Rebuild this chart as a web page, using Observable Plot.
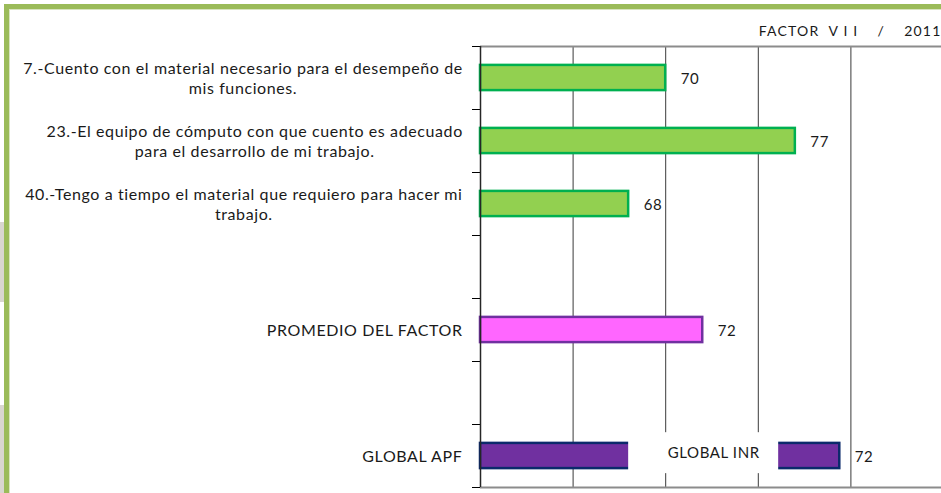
<!DOCTYPE html>
<html><head><meta charset="utf-8">
<script src="https://cdn.jsdelivr.net/npm/d3@7"></script>
<script src="https://cdn.jsdelivr.net/npm/@observablehq/plot@0.6"></script>
<style>
html,body{margin:0;padding:0;background:#fff;overflow:hidden;}
#wrap{position:relative;width:941px;height:493px;}
#wrap svg{position:absolute;left:0;top:0;}
.deco{position:absolute;pointer-events:none;}
</style></head>
<body><div id="wrap"></div>
<script>
// ---- data ----
const categories = [
  "7.-Cuento con el material necesario para el desempeño de\nmis funciones.",
  "23.-El equipo de cómputo con que cuento es adecuado\npara el desarrollo de mi trabajo.",
  "40.-Tengo a tiempo el material que requiero para hacer mi\ntrabajo.",
  "",
  "PROMEDIO DEL FACTOR",
  "",
  "GLOBAL APF"
];
const barCategories = [
  "7.-Cuento con el material necesario para el desempeño de\nmis funciones.",
  "23.-El equipo de cómputo con que cuento es adecuado\npara el desarrollo de mi trabajo.",
  "40.-Tengo a tiempo el material que requiero para hacer mi\ntrabajo.",
  "PROMEDIO DEL FACTOR",
  "GLOBAL APF"
];
const barValues = [70, 77, 68, 72, 79.4];
const valueLabels = ["70", "77", "68", "72", "72"];
const barKinds = ["item", "item", "item", "promedio", "global"];
const xDomain = [60, 85];
const gridValues = [65, 70, 75, 80, 85];
const titleText = "FACTOR\u00a0\u00a0V\u00a0I\u00a0I\u00a0\u00a0\u00a0\u00a0/\u00a0\u00a0\u00a0\u00a02011";
const inrLabel = "GLOBAL INR";
const inrSpan = [68, 76.1];

// ---- styles ----
const fills = {item: "#92d050", promedio: "#ff66ff", global: "#7030a0"};
const strokes = {item: "#00b050", promedio: "#7030a0", global: "#0b2a6b"};
const FONT = "Lato, 'Open Sans', sans-serif";
const FS = 15;
const LFS = 16;     // category label size
const LLS = 0.6;    // category label letter spacing

const idx = c => categories.indexOf(c);
const bars = barCategories.map((c, i) => ({cat: c, i: idx(c), value: barValues[i], label: valueLabels[i], kind: barKinds[i]}));

const ctx = document.createElement("canvas").getContext("2d");
ctx.font = `${LFS}px Lato`;
const blockWidth = s => Math.max(...s.split("\n").map(l => ctx.measureText(l).width + l.length * LLS));

const labelMarks = categories.map((c, i) => c ? Plot.text([c], {
  x: xDomain[0], y: i + 0.5, text: d => d, textAnchor: "middle",
  dx: -18 - blockWidth(c) / 2 + LLS / 2, lineHeight: 1.25, fontSize: LFS, fill: "#1a1a1a"
}) : null).filter(Boolean);

const chart = Plot.plot({
  width: 941, height: 493,
  marginLeft: 480, marginRight: 0, marginTop: 46, marginBottom: 6,
  style: {fontFamily: FONT, fontSize: FS + "px", color: "#000", background: "transparent", letterSpacing: LLS + "px"},
  x: {domain: xDomain, range: [480, 943], axis: null},
  y: {domain: [0, categories.length], range: [46, 487], ticks: d3.range(0, categories.length + 1), tickSize: 8, tickFormat: () => "", label: null},
  marks: [
    Plot.ruleX(gridValues, {y1: 0, y2: categories.length, stroke: "#3a3a3a", strokeWidth: 1}),
    Plot.ruleY([0], {x1: xDomain[0], x2: xDomain[1], stroke: "#8c8c8c", strokeWidth: 2}),
    Plot.ruleY([categories.length], {x1: xDomain[0], x2: xDomain[1], stroke: "#8c8c8c", strokeWidth: 2}),
    Plot.rectX(bars, {
      x1: xDomain[0], x2: "value", y1: d => d.i + 0.3, y2: d => d.i + 0.7,
      fill: d => fills[d.kind], stroke: d => strokes[d.kind], strokeWidth: 2.5
    }),
    Plot.ruleX([xDomain[0]], {y1: 0, y2: categories.length, stroke: "#262626", strokeWidth: 1.5}),
    Plot.rect([inrLabel], {x1: inrSpan[0], x2: inrSpan[1], y1: idx("GLOBAL APF") + 0.13, y2: idx("GLOBAL APF") + 0.78, fill: "white"}),
    Plot.text([inrLabel], {x: (inrSpan[0] + inrSpan[1]) / 2, y: idx("GLOBAL APF") + 0.45, dx: 10, text: d => d, fontSize: FS, fill: "#1a1a1a"}),
    Plot.text(bars, {x: "value", y: d => d.i + 0.5, text: "label", textAnchor: "start", dx: 15, dy: 1, fontSize: FS, fill: "#1a1a1a"}),
    ...labelMarks,
    Plot.text([titleText], {x: xDomain[1], y: 0, text: d => d, frameAnchor: "top-right", textAnchor: "end", dy: -20, dx: -2, fontSize: 14, fill: "#1a1a1a"})
  ]
});
// wider letter spacing for the title
d3.select(chart).selectAll("text").filter(function () { return this.textContent === titleText; }).style("letter-spacing", "1.2px");

const wrap = document.getElementById("wrap");
wrap.appendChild(chart);

// decorative frame (green border and grey edge strips)
const deco = [
  {l: 0, t: 222, w: 4, h: 80, c: "#d9d6cf"},
  {l: 0, t: 405, w: 4, h: 88, c: "#d9d6cf"},
  {l: 4, t: 4, w: 937, h: 5, c: "#9bbb59"},
  {l: 4, t: 4, w: 5, h: 489, c: "#9bbb59"},
  {l: 9, t: 9, w: 932, h: 1, c: "#d8e4bf"},
  {l: 9, t: 9, w: 1, h: 484, c: "#d8e4bf"}
];
deco.forEach(d => {
  const e = document.createElement("div");
  e.className = "deco";
  Object.assign(e.style, {left: d.l + "px", top: d.t + "px", width: d.w + "px", height: d.h + "px", background: d.c});
  wrap.appendChild(e);
});
</script>
</body></html>
